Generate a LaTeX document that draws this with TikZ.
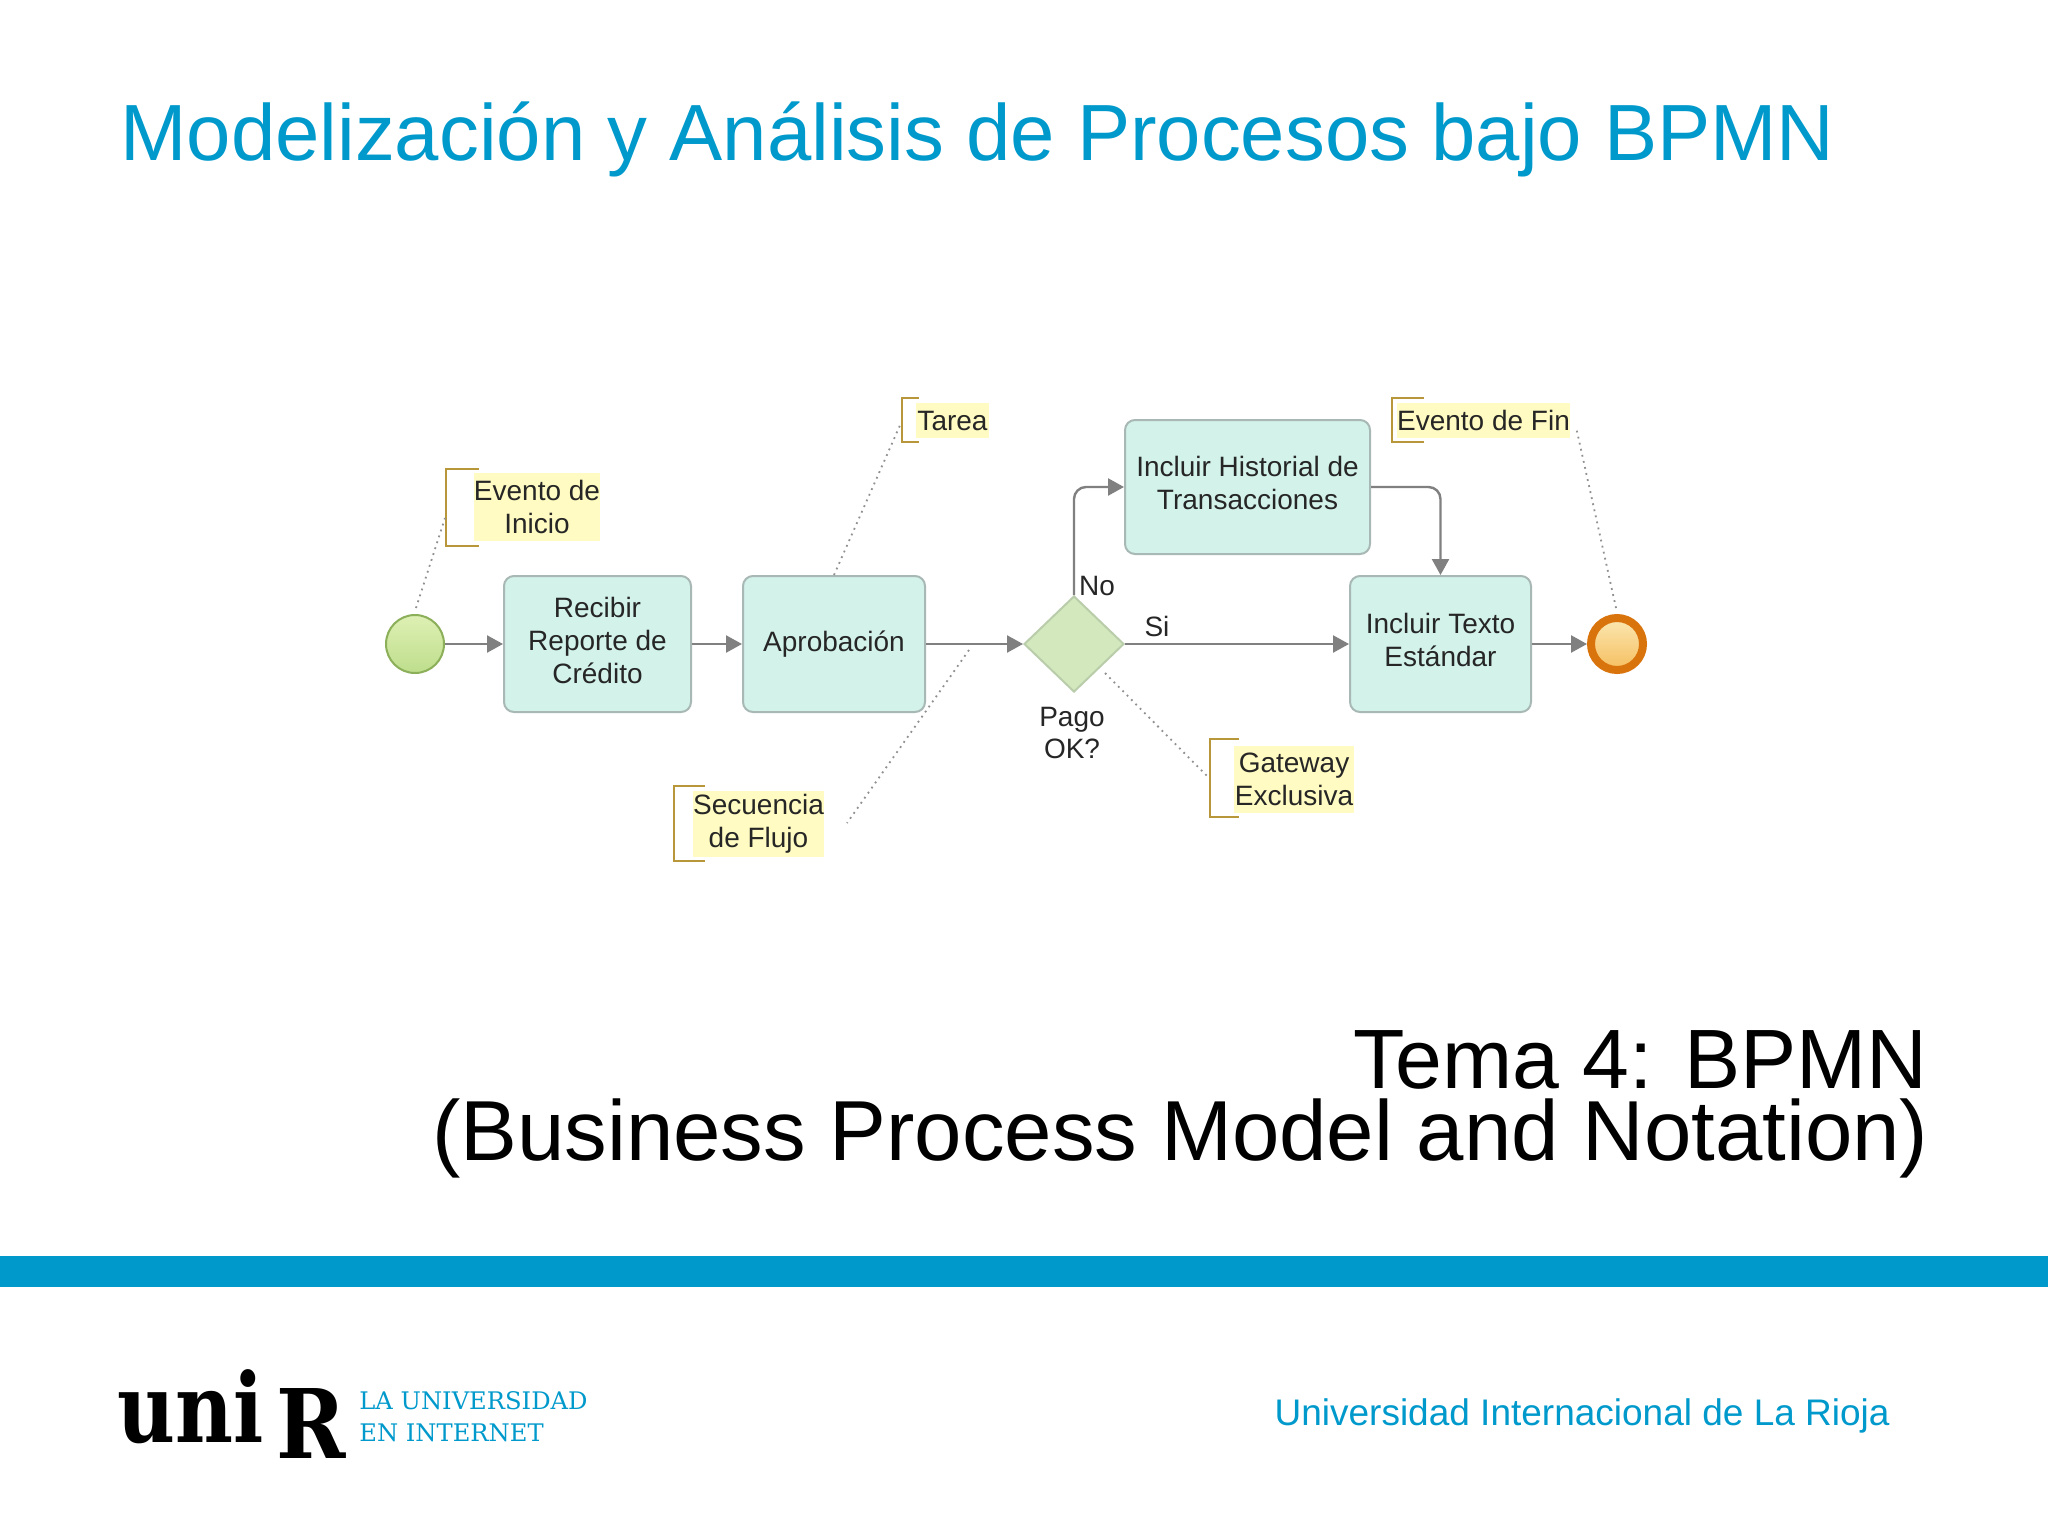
\documentclass[tikz,border=0pt]{standalone}
\usepackage{fontspec}
\setmainfont{Liberation Sans}
\newfontfamily\slabfont{DejaVu Serif}
\usetikzlibrary{shapes.geometric,arrows.meta}
\definecolor{unirblue}{HTML}{0099CC}
\definecolor{taskfill}{HTML}{D2F2EA}
\definecolor{taskline}{HTML}{A8B8B4}
\definecolor{flowgray}{HTML}{808080}
\definecolor{notefill}{HTML}{FFFBC2}
\definecolor{brack}{HTML}{B8963A}
\definecolor{dotgray}{HTML}{909090}
\tikzset{
  wh/.style 2 args={minimum width=#1*0.5pt,minimum height=#2*0.5pt,inner sep=0pt},
  task/.style={draw=taskline,line width=1pt,fill=taskfill,rounded corners=5pt,align=center,
    font=\fontsize{14}{16.5}\selectfont,text=black!85},
  flow/.style={draw=flowgray,line width=1.2pt,-{Triangle[length=8pt,width=8.5pt]},rounded corners=6pt},
  note/.style={fill=notefill,inner sep=0pt,align=center,font=\fontsize{14}{16.5}\selectfont,text=black!85},
  brk/.style={draw=brack,line width=1pt},
  assoc/.style={draw=dotgray,line width=0.9pt,dash pattern=on 0.9pt off 2.2pt},
  lbl/.style={inner sep=0pt,align=center,font=\fontsize{14}{16}\selectfont,text=black!85},
  big/.style={inner sep=0pt,anchor=base east},
  slab/.style={inner sep=0pt,anchor=base west,font=\slabfont\fontsize{12.1}{12.1}\selectfont,text=unirblue},
  logotext/.style={inner sep=0pt,anchor=base west,font=\slabfont\bfseries\fontsize{48}{48}\selectfont,text=black},
}
\begin{document}
\begin{tikzpicture}[x=0.5pt,y=-0.5pt]
\useasboundingbox (0,0) rectangle (2048,1536);
\fill[white] (0,0) rectangle (2048,1536);
% headings
\node[inner sep=0pt,anchor=base west,text=unirblue,font=\fontsize{39.85}{42}\selectfont] (title) at (120,160) {Modelización y Análisis de Procesos bajo BPMN};
\node[big,font=\fontsize{42.1}{42}\selectfont] (tema) at (1928,1088) {Tema 4: BPMN};
\node[big,font=\fontsize{42.6}{42}\selectfont] (sub) at (1929,1160) {(Business Process Model and Notation)};
% footer
\fill[unirblue] (0,1256) rectangle (2048,1287);
\node[logotext] (logo) at (117,1442) {\scalebox{.83}[1]{uni}};
\node[logotext] (logor) at (276,1458) {\scalebox{.87}[1]{R}};
\node[slab] (la) at (359,1409) {LA UNIVERSIDAD};
\node[slab] (en) at (359,1441) {EN INTERNET};
\node[inner sep=0pt,anchor=base east,font=\fontsize{18.5}{19}\selectfont,text=unirblue] (uir) at (1890,1425) {Universidad Internacional de La Rioja};
% flow objects
\node[circle,wh={58}{58},draw={rgb,255:red,140;green,175;blue,90},line width=1pt,top color={rgb,255:red,222;green,240;blue,180},bottom color={rgb,255:red,190;green,222;blue,140}] (start) at (415,644) {};
\node[task,wh={187}{136}] (recibir) at (597.5,644) {Recibir\\Reporte de\\Crédito\\[-12.5pt]};
\node[task,wh={182}{136}] (aprob) at (834,644) {Aprobación};
\node[diamond,wh={100}{96},draw={rgb,255:red,185;green,205;blue,170},line width=1pt,fill={rgb,255:red,212;green,232;blue,190}] (gw) at (1074,644) {};
\node[task,wh={245}{134}] (hist) at (1247.5,487) {Incluir Historial de\\Transacciones\\[-12.5pt]};
\node[task,wh={181}{136}] (texto) at (1440.5,644) {Incluir Texto\\Estándar\\[-12.5pt]};
\node[circle,wh={52}{52},draw={rgb,255:red,217;green,115;blue,11},line width=4pt,top color={rgb,255:red,251;green,232;blue,178},bottom color={rgb,255:red,245;green,190;blue,95}] (end) at (1617,644) {};
% flow labels
\node[lbl] (no) at (1097,586) {No};
\node[lbl] (si) at (1157,626) {Si};
\node[lbl] (pago) at (1072,733) {Pago\\OK?};
% sequence flows
\draw[flow] (start) -- (recibir);
\draw[flow] (recibir) -- (aprob);
\draw[flow] (aprob) -- (gw);
\draw[flow] (gw) -- (texto);
\draw[flow] (texto) -- (end);
\draw[flow] (gw.north) |- (hist.west);
\draw[flow] (hist.east) -| (texto.north);
% annotations
\node[note,wh={126}{68}] (n1) at (537,507) {Evento de\\Inicio};
\node[note,wh={73}{35}] (n2) at (952.5,420.5) {Tarea};
\node[note,wh={173}{35}] (n3) at (1483.5,420.5) {Evento de Fin};
\node[note,wh={131}{66}] (n4) at (758.5,824) {Secuencia\\de Flujo};
\node[note,wh={120}{67}] (n5) at (1294,779.5) {Gateway\\Exclusiva};
\draw[brk] (479,469) -- (446,469) -- (446,546) -- (479,546);
\draw[brk] (919,398) -- (901.5,398) -- (901.5,442) -- (919,442);
\draw[brk] (1424,398) -- (1391.5,398) -- (1391.5,442) -- (1424,442);
\draw[brk] (705,786) -- (674,786) -- (674,861) -- (705,861);
\draw[brk] (1239,739) -- (1210,739) -- (1210,817) -- (1239,817);
% association anchors
\coordinate (c1) at (445,518);
\coordinate (c2) at (901,423);
\coordinate (c3) at (1576,427);
\coordinate (c4) at (847,823);
\coordinate (c5) at (1208,777);
\coordinate (f4) at (969,650);
\coordinate (g5) at (1105,673);
\coordinate (e3) at (1616,608);
\coordinate (s1) at (416,608);
% associations
\draw[assoc] (s1) -- (c1);
\draw[assoc] (aprob.north) -- (c2);
\draw[assoc] (e3) -- (c3);
\draw[assoc] (f4) -- (c4);
\draw[assoc] (g5) -- (c5);
\end{tikzpicture}
\end{document}
